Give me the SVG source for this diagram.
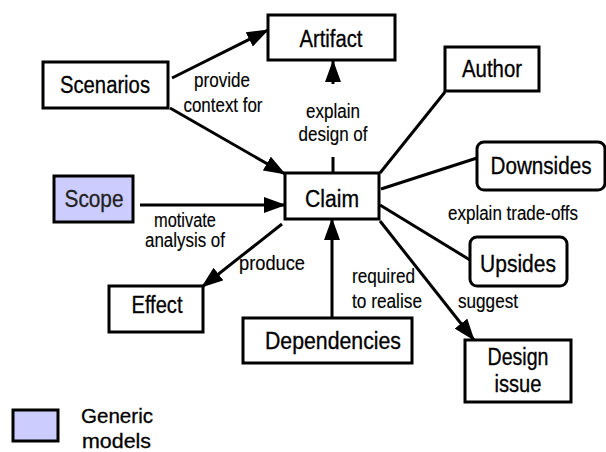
<svg xmlns="http://www.w3.org/2000/svg" width="606" height="452" viewBox="0 0 606 452">
<style>
.box{fill:#fff;stroke:#000;stroke-width:3}
.gen{fill:#ccccff;stroke:#000;stroke-width:3}
.nt{font-family:"Liberation Sans",Arial,sans-serif;font-size:23px;fill:#000;stroke:#000;stroke-width:0.3px}
.lg{font-size:21px}
.mid{text-anchor:middle}
.lt{font-family:"Liberation Sans",Arial,sans-serif;font-size:19.5px;fill:#000;stroke:#000;stroke-width:0.15px}
.ln{stroke:#000;stroke-width:3;fill:none}
.arr{marker-end:url(#ah)}
</style>
<defs>
<marker id="ah" markerUnits="userSpaceOnUse" markerWidth="22" markerHeight="16" refX="21" refY="8" orient="auto">
<path d="M0,0 L22,8 L0,16 z" fill="#000"/>
</marker>
</defs>
<rect width="606" height="452" fill="#fff"/>
<g id="connectors">
<line class="ln arr" x1="172" y1="78" x2="268" y2="30"/>
<line class="ln arr" x1="170" y1="108" x2="285" y2="174"/>
<line class="ln" x1="333" y1="157" x2="333" y2="173"/>
<line class="ln arr" x1="333" y1="84" x2="333" y2="61"/>
<line class="ln" x1="380" y1="173" x2="445" y2="92"/>
<line class="ln" x1="381" y1="189" x2="477" y2="158"/>
<line class="ln" x1="380" y1="205" x2="470" y2="260"/>
<line class="ln arr" x1="380" y1="221" x2="474" y2="340"/>
<line class="ln arr" x1="140" y1="205" x2="285" y2="205"/>
<line class="ln arr" x1="282" y1="224" x2="202" y2="287"/>
<line class="ln arr" x1="332" y1="318" x2="332" y2="219"/>
<text class="lt mid" x="222" y="87" textLength="56" lengthAdjust="spacingAndGlyphs">provide</text>
<text class="lt mid" x="223" y="112" textLength="79" lengthAdjust="spacingAndGlyphs">context for</text>
<text class="lt mid" x="333" y="118" textLength="54" lengthAdjust="spacingAndGlyphs">explain</text>
<text class="lt mid" x="333" y="141" textLength="69" lengthAdjust="spacingAndGlyphs">design of</text>
<text class="lt mid" x="513" y="220" textLength="130" lengthAdjust="spacingAndGlyphs">explain trade-offs</text>
<text class="lt mid" x="185" y="227" textLength="62" lengthAdjust="spacingAndGlyphs">motivate</text>
<text class="lt mid" x="185" y="247" textLength="80" lengthAdjust="spacingAndGlyphs">analysis of</text>
<text class="lt mid" x="272" y="270" textLength="66" lengthAdjust="spacingAndGlyphs">produce</text>
<text class="lt" x="352" y="283" textLength="63" lengthAdjust="spacingAndGlyphs">required</text>
<text class="lt" x="352" y="308" textLength="70" lengthAdjust="spacingAndGlyphs">to realise</text>
<text class="lt" x="458" y="308" textLength="60" lengthAdjust="spacingAndGlyphs">suggest</text>
</g>
<g id="artifact"><rect class="box" x="268" y="15" width="127" height="45"/><text class="nt mid" x="331" y="47" textLength="63" lengthAdjust="spacingAndGlyphs">Artifact</text></g>
<g id="scenarios"><rect class="box" x="43" y="62" width="125" height="46"/><text class="nt mid" x="105" y="93" textLength="90" lengthAdjust="spacingAndGlyphs">Scenarios</text></g>
<g id="author"><rect class="box" x="445" y="47" width="94" height="44"/><text class="nt mid" x="492" y="77" textLength="60" lengthAdjust="spacingAndGlyphs">Author</text></g>
<g id="downsides"><rect class="box" x="477" y="142" width="128" height="48" rx="7"/><text class="nt mid" x="541" y="174" textLength="101" lengthAdjust="spacingAndGlyphs">Downsides</text></g>
<g id="scope"><rect class="gen" x="54" y="176" width="79" height="46"/><text class="nt mid" x="94" y="207" textLength="59" lengthAdjust="spacingAndGlyphs" style="fill:#222;stroke:#222">Scope</text></g>
<g id="claim"><rect class="box" x="285" y="173" width="94" height="46"/><text class="nt mid" x="332" y="207" textLength="54" lengthAdjust="spacingAndGlyphs">Claim</text></g>
<g id="upsides"><rect class="box" x="470" y="237" width="97" height="49" rx="7"/><text class="nt mid" x="518" y="272" textLength="76" lengthAdjust="spacingAndGlyphs">Upsides</text></g>
<g id="effect"><rect class="box" x="109" y="286" width="94" height="46"/><text class="nt mid" x="157" y="313" textLength="51" lengthAdjust="spacingAndGlyphs">Effect</text></g>
<g id="dependencies"><rect class="box" x="243" y="318" width="169" height="45"/><text class="nt mid" x="333" y="349" textLength="136" lengthAdjust="spacingAndGlyphs">Dependencies</text></g>
<g id="design-issue"><rect class="box" x="465" y="340" width="106" height="62"/><text class="nt mid" x="518" y="365" textLength="61" lengthAdjust="spacingAndGlyphs">Design</text><text class="nt mid" x="518" y="392" textLength="47" lengthAdjust="spacingAndGlyphs">issue</text></g>
<g id="legend"><rect class="gen" x="13" y="410" width="45" height="31"/><text class="nt lg" x="81" y="423" textLength="72" lengthAdjust="spacingAndGlyphs">Generic</text><text class="nt lg" x="82" y="448" textLength="69" lengthAdjust="spacingAndGlyphs">models</text></g>
</svg>
